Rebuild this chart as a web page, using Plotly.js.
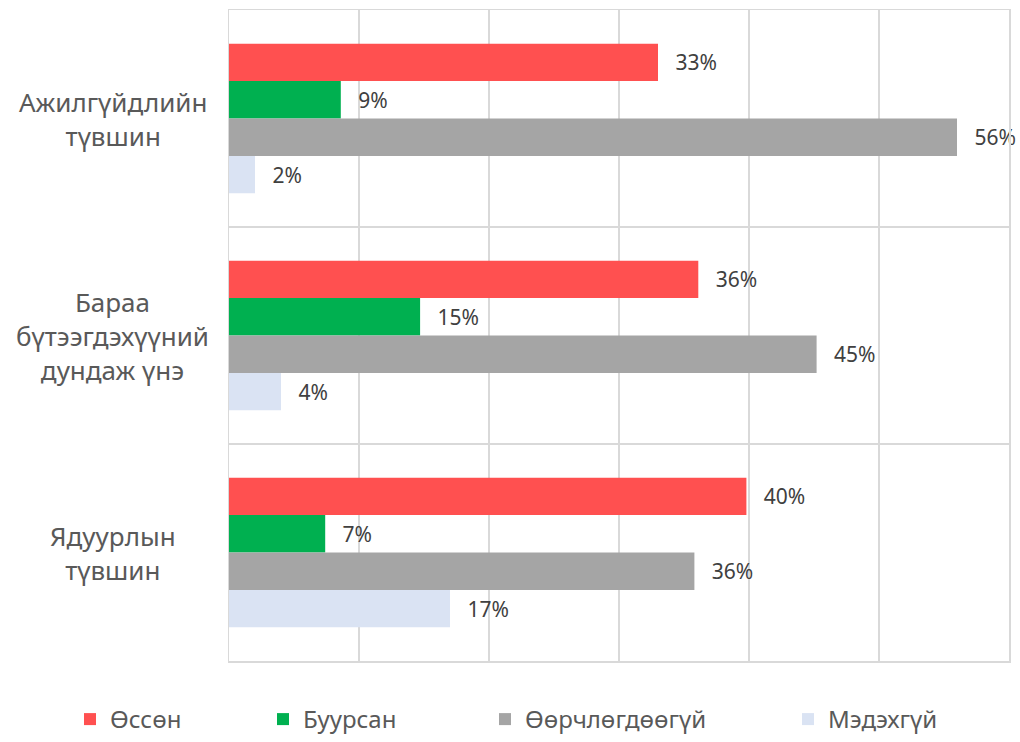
<!DOCTYPE html>
<html><head><meta charset="utf-8">
<script src="https://cdn.plot.ly/plotly-3.0.1.min.js"></script>
<style>html,body{margin:0;padding:0;background:#fff}#chart{width:1020px;height:742px}</style>
</head><body><div id="chart"></div>
<script>
const categories = ["Ажилгүйдлийн түвшин", "Бараа бүтээгдэхүүний дундаж үнэ", "Ядуурлын түвшин"];
const categoryLabels = ["Ажилгүйдлийн<br>түвшин", "Бараа<br>бүтээгдэхүүний<br>дундаж үнэ", "Ядуурлын<br>түвшин"];
const seriesNames = ["Өссөн", "Буурсан", "Өөрчлөгдөөгүй", "Мэдэхгүй"];
const grew = [33, 36.1, 39.8];
const fell = [8.6, 14.7, 7.4];
const unchanged = [56, 45.2, 35.8];
const unknown = [2, 4, 17];
const colors = ["#FF5050", "#00B050", "#A5A5A5", "#DAE3F3"];
const xTicks = [0, 10, 20, 30, 40, 50, 60];

const FONT = "Noto Sans, Open Sans, sans-serif";
const NB = "\u00a0";
const seriesValues = [grew, fell, unchanged, unknown];
const legendIds = ["legend", "legend2", "legend3", "legend4"];
const legendX = [70, 263, 485, 788];

const traces = seriesValues.map((vals, i) => ({
  type: "bar", orientation: "h",
  name: seriesNames[i],
  legend: legendIds[i],
  y: categories, x: vals,
  marker: {color: colors[i]},
  texttemplate: NB + NB + "\u2009%{x:.0f}%",
  textposition: "outside",
  textfont: {family: FONT, size: 21, color: "#404040"},
  cliponaxis: false,
  hoverinfo: "x+y"
}));

const annotations = categories.map((c, i) => ({
  xref: "paper", yref: "y", x: -0.149, y: c,
  text: categoryLabels[i], showarrow: false,
  xanchor: "center", yanchor: "middle", align: "center",
  font: {family: FONT, size: 26, color: "#595959"}
}));

const layout = {
  width: 1020, height: 742,
  margin: {l: 229, r: 11, t: 10, b: 81},
  paper_bgcolor: "#fff", plot_bgcolor: "#fff",
  barmode: "group", bargap: 0.31, bargroupgap: 0,
  font: {family: FONT, color: "#595959"},
  xaxis: {
    range: [0, 60], tickvals: xTicks, showticklabels: false,
    showgrid: true, gridcolor: "#D9D9D9", gridwidth: 1.5,
    zeroline: false, showline: true, linecolor: "#D9D9D9", linewidth: 1.5, mirror: true,
    ticks: ""
  },
  yaxis: {
    type: "category", autorange: "reversed", showticklabels: false,
    tickson: "boundaries", showgrid: true, gridcolor: "#D9D9D9", gridwidth: 1.5,
    showline: true, linecolor: "#D9D9D9", linewidth: 1.5, mirror: true, ticks: ""
  },
  showlegend: true,
  annotations: annotations
};

legendIds.forEach((id, i) => {
  layout[id] = {
    orientation: "h", xref: "container", yref: "container",
    x: legendX[i] / 1020, xanchor: "left", y: 0, yanchor: "bottom",
    font: {family: FONT, size: 24, color: "#595959"},
    itemwidth: 30, bgcolor: "rgba(0,0,0,0)"
  };
});

Plotly.newPlot("chart", traces, layout, {displayModeBar: false, staticPlot: true});
</script></body></html>
